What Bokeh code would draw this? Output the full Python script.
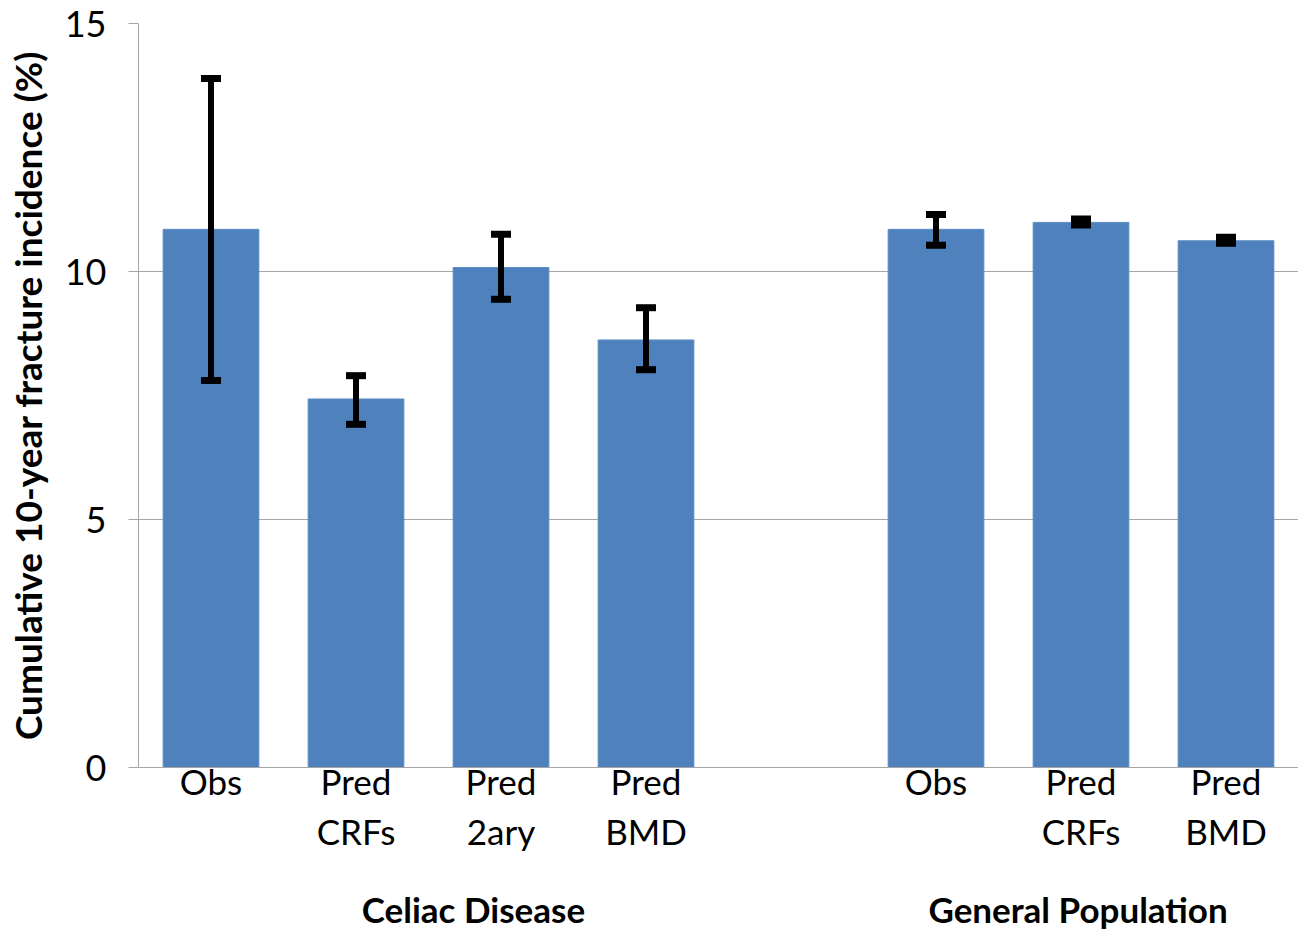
from bokeh.plotting import figure
from bokeh.models import Range1d, FixedTicker, LinearAxis, Whisker, ColumnDataSource, TeeHead
from bokeh.embed import file_html
from bokeh.resources import INLINE

# ---- data ----
groups = ["Celiac Disease", "General Population"]
labels = ["Obs", "Pred\nCRFs", "Pred\n2ary", "Pred\nBMD", "Obs", "Pred\nCRFs", "Pred\nBMD"]
slots = [0, 1, 2, 3, 5, 6, 7]          # slot 4 is the gap between the two groups
values = [10.85, 7.43, 10.08, 8.62, 10.85, 10.99, 10.62]
lower = [7.80, 6.92, 9.44, 8.02, 10.53, 10.94, 10.57]
upper = [13.89, 7.90, 10.75, 9.27, 11.15, 11.06, 10.69]
y_ticks = [0, 5, 10, 15]

xs = [s + 0.5 for s in slots]
src = ColumnDataSource(dict(x=xs, top=values, lower=lower, upper=upper))

FONT = "Lato"
GRID = "#a6a6a6"

p = figure(width=1298, height=935, output_backend="svg", toolbar_location=None,
           x_range=Range1d(0, 8), y_range=Range1d(0, 15),
           min_border_left=138, min_border_right=0, min_border_top=23, min_border_bottom=168)
p.outline_line_color = None
p.background_fill_color = "white"
p.border_fill_color = "white"

p.vbar(x="x", top="top", width=0.66, bottom=0, source=src,
       fill_color="#4f81bd", line_color="#5b8cc6", line_width=1)

w = Whisker(base="x", lower="lower", upper="upper", source=src, level="overlay",
            line_color="black", line_width=6,
            upper_head=TeeHead(size=20, line_width=7, line_color="black"),
            lower_head=TeeHead(size=20, line_width=7, line_color="black"))
p.add_layout(w)

# y axis
p.yaxis.ticker = FixedTicker(ticks=y_ticks)
p.yaxis.axis_line_color = GRID
p.yaxis.major_tick_line_color = GRID
p.yaxis.major_tick_out = 10
p.yaxis.major_tick_in = 0
p.yaxis.minor_tick_line_color = None
p.yaxis.major_label_text_font = FONT
p.yaxis.major_label_text_font_size = "36px"
p.yaxis.major_label_text_color = "black"
p.yaxis.major_label_standoff = 22
p.yaxis.axis_label = "Cumulative 10-year fracture incidence (%)"
p.yaxis.axis_label_text_font = FONT
p.yaxis.axis_label_text_font_size = "37px"
p.yaxis.axis_label_text_font_style = "bold"
p.yaxis.axis_label_text_color = "black"
p.yaxis.axis_label_standoff = 12

p.ygrid.ticker = FixedTicker(ticks=y_ticks)
p.ygrid.grid_line_color = GRID
p.ygrid.grid_line_width = 1
p.xgrid.grid_line_color = None

# x axis with category labels
p.xaxis.ticker = FixedTicker(ticks=xs)
p.xaxis.major_label_overrides = {x: lab for x, lab in zip(xs, labels)}
p.xaxis.axis_line_color = GRID
p.xaxis.major_tick_line_color = None
p.xaxis.minor_tick_line_color = None
p.xaxis.major_tick_out = 0
p.xaxis.major_tick_in = 0
p.xaxis.major_label_text_font = FONT
p.xaxis.major_label_text_font_size = "35px"
p.xaxis.major_label_text_color = "black"
p.xaxis.major_label_standoff = -8

# second axis for group labels
group_pos = [2.31, 6.48]
gax = LinearAxis(ticker=FixedTicker(ticks=group_pos),
                 major_label_overrides={x: g for x, g in zip(group_pos, groups)})
gax.axis_line_color = None
gax.major_tick_line_color = None
gax.minor_tick_line_color = None
gax.major_tick_out = 0
gax.major_tick_in = 0
gax.major_label_text_font = FONT
gax.major_label_text_font_size = "35px"
gax.major_label_text_font_style = "bold"
gax.major_label_text_color = "black"
gax.major_label_standoff = 33
p.add_layout(gax, "below")

open("out.html", "w").write(file_html(p, INLINE))
